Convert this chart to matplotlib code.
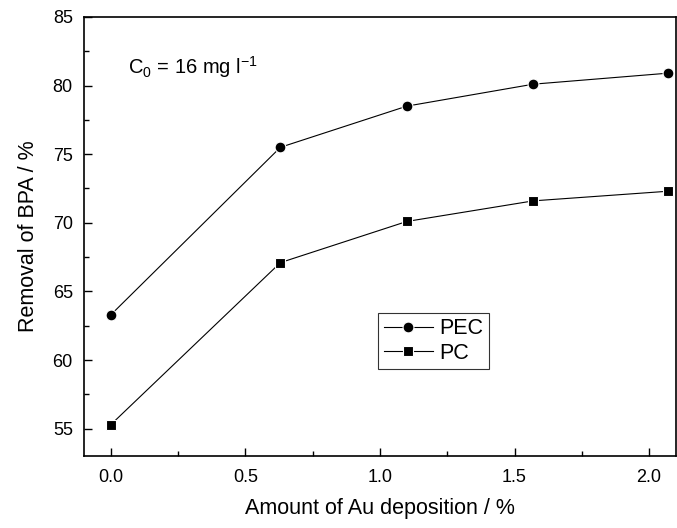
import matplotlib
matplotlib.use("Agg")
import matplotlib.pyplot as plt
from matplotlib.ticker import MultipleLocator, FormatStrFormatter

plt.rcParams['font.family'] = ['Liberation Sans', 'DejaVu Sans']
plt.rcParams['mathtext.fontset'] = 'custom'
plt.rcParams['mathtext.rm'] = 'Liberation Sans'
plt.rcParams['mathtext.it'] = 'Liberation Sans'

# data
au_amount = [0.0, 0.63, 1.10, 1.57, 2.07]
pec_removal = [63.3, 75.5, 78.5, 80.1, 80.9]
pc_removal = [55.3, 67.1, 70.1, 71.6, 72.3]

fig = plt.figure(figsize=(6.77, 5.28), dpi=100)
ax = fig.add_axes([0.124, 0.136, 0.8745, 0.832])

ax.plot(au_amount, pec_removal, '-o', color='black', lw=0.8, ms=7.8,
        mec='white', mew=0.8, mfc='black', label='PEC')
ax.plot(au_amount, pc_removal, '-s', color='black', lw=0.8, ms=7,
        mec='white', mew=0.8, mfc='black', label='PC')

ax.set_xlim(-0.1, 2.1)
ax.set_ylim(53, 85)
ax.xaxis.set_major_locator(MultipleLocator(0.5))
ax.xaxis.set_minor_locator(MultipleLocator(0.25))
ax.yaxis.set_major_locator(MultipleLocator(5))
ax.yaxis.set_minor_locator(MultipleLocator(2.5))
ax.xaxis.set_major_formatter(FormatStrFormatter('%.1f'))

ax.tick_params(which='both', direction='in', top=False, right=False,
               labelsize=13, width=1.0)
ax.tick_params(axis='x', which='major', length=6, pad=9)
ax.tick_params(axis='y', which='major', length=6, pad=8)
ax.tick_params(which='minor', length=3.5)
for s in ax.spines.values():
    s.set_linewidth(1.2)

ax.set_xlabel('Amount of Au deposition / %', fontsize=15.5, labelpad=9)
ax.set_ylabel('Removal of BPA / %', fontsize=15.5, labelpad=10)

ax.text(0.064, 80.85, r'C$_0$ = 16 mg l$^{-1}$', fontsize=14.5, va='baseline')

leg = ax.legend(loc='upper left', bbox_to_anchor=(0.497, 0.326), fontsize=15.5,
                frameon=True, fancybox=False, edgecolor='black',
                handlelength=2.3, handletextpad=0.3, borderpad=0.25,
                labelspacing=0.15, borderaxespad=0)
leg.get_frame().set_linewidth(0.8)

fig.savefig('out.png', dpi=100)
